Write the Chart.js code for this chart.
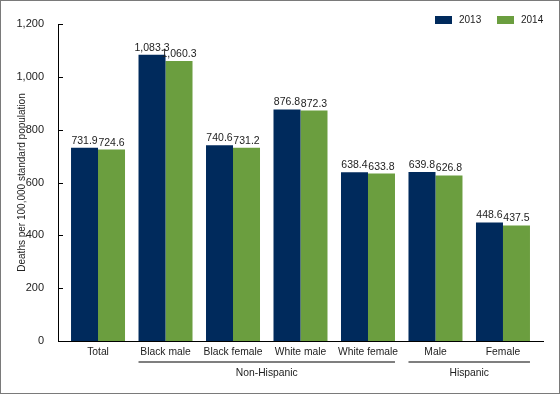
<!DOCTYPE html>
<html>
<head>
<meta charset="utf-8">
<script src="https://cdn.jsdelivr.net/npm/chart.js@4.4.1/dist/chart.umd.min.js"></script>
<style>
  html, body { margin: 0; padding: 0; background: #fff; }
  #wrap { width: 560px; height: 394px; position: relative; }
</style>
</head>
<body>
<div id="wrap"><canvas id="myChart" width="560" height="394"></canvas></div>
<script>
// categories and values
const categories = ["Total", "Black male", "Black female", "White male", "White female", "Male", "Female"];
const years = ["2013", "2014"];
const values2013 = [731.9, 1083.3, 740.6, 876.8, 638.4, 639.8, 448.6];
const values2014 = [724.6, 1060.3, 731.2, 872.3, 633.8, 626.8, 437.5];
const groups = [
  { label: "Non-Hispanic", from: 1, to: 4 },
  { label: "Hispanic", from: 5, to: 6 }
];
const yTicks = [0, 200, 400, 600, 800, 1000, 1200];

const colors = ["#002a5c", "#6b9e3f"];
const font = "'Liberation Sans', Arial, sans-serif";
const textColor = "#222";

const fmt = (v) => v.toLocaleString("en-US", { minimumFractionDigits: 1, maximumFractionDigits: 1 });
const toPoints = (vals) => vals.map((v, i) => ({ x: i, y: v }));

// value labels, inside y ticks, group labels, legend, frame
const extras = {
  id: "extras",
  afterDatasetsDraw(chart) {
    const ctx = chart.ctx;
    const area = chart.chartArea;
    const y = chart.scales.y;
    ctx.save();
    ctx.font = "10.5px " + font;
    ctx.fillStyle = textColor;
    ctx.textAlign = "center";
    ctx.textBaseline = "alphabetic";
    chart.data.datasets.forEach((ds, di) => {
      chart.getDatasetMeta(di).data.forEach((bar, i) => {
        ctx.fillText(fmt(ds.data[i].y), bar.x, bar.y - 4);
      });
    });

    // small tick marks pointing into the plot
    ctx.strokeStyle = "#000";
    ctx.lineWidth = 1;
    yTicks.forEach((t) => {
      const py = Math.round(y.getPixelForValue(t)) + 0.5;
      ctx.beginPath();
      ctx.moveTo(area.left, py);
      ctx.lineTo(area.left + 5, py);
      ctx.stroke();
    });

    // group brackets under the category labels
    const bars0 = chart.getDatasetMeta(0).data;
    const bars1 = chart.getDatasetMeta(1).data;
    ctx.strokeStyle = "#555";
    ctx.lineWidth = 1.5;
    ctx.font = "10.3px " + font;
    groups.forEach((g) => {
      const x1 = bars0[g.from].x - bars0[g.from].width / 2;
      const x2 = bars1[g.to].x + bars1[g.to].width / 2;
      ctx.beginPath();
      ctx.moveTo(x1, area.bottom + 21);
      ctx.lineTo(x2, area.bottom + 21);
      ctx.stroke();
      ctx.fillText(g.label, (x1 + x2) / 2, area.bottom + 35);
    });

    // legend
    ctx.font = "10px " + font;
    ctx.textAlign = "left";
    ctx.textBaseline = "middle";
    let lx = 435;
    chart.data.datasets.forEach((ds) => {
      ctx.fillStyle = ds.backgroundColor;
      ctx.fillRect(lx, 16, 17, 8);
      ctx.fillStyle = textColor;
      ctx.fillText(ds.label, lx + 24, 20.5);
      lx += 62;
    });

    // frame
    ctx.strokeStyle = "#7a7a7a";
    ctx.lineWidth = 1;
    ctx.strokeRect(0.5, 0.5, chart.width - 1, chart.height - 1);
    ctx.restore();
  }
};

const ctx = document.getElementById("myChart").getContext("2d");
const chart = new Chart(ctx, {
  type: "bar",
  data: {
    datasets: [
      { label: years[0], backgroundColor: colors[0], data: toPoints(values2013) },
      { label: years[1], backgroundColor: colors[1], data: toPoints(values2014) }
    ]
  },
  plugins: [extras],
  options: {
    responsive: false,
    animation: false,
    events: [],
    datasets: {
      bar: { categoryPercentage: 0.8, barPercentage: 1.0 }
    },
    layout: { padding: { left: 0, right: 17, top: 24, bottom: 0 } },
    plugins: {
      legend: { display: false },
      tooltip: { enabled: false }
    },
    scales: {
      x: {
        type: "linear",
        offset: false,
        min: -0.593,
        max: 6.593,
        grid: { display: false, drawTicks: false },
        border: { display: true, color: "#000", width: 1 },
        afterBuildTicks: (s) => { s.ticks = categories.map((c, i) => ({ value: i })); },
        afterFit: (s) => { s.height = 53; },
        ticks: {
          autoSkip: false,
          maxRotation: 0,
          padding: 5,
          color: textColor,
          font: { family: font, size: 10.3 },
          callback: (v) => categories[v]
        }
      },
      y: {
        min: 0,
        max: 1200,
        afterBuildTicks: (s) => { s.ticks = yTicks.map((v) => ({ value: v })); },
        afterFit: (s) => { s.width = 58; },
        grid: { display: false },
        border: { display: true, color: "#000", width: 1 },
        ticks: {
          padding: 6,
          color: textColor,
          font: { family: font, size: 11 },
          callback: (v) => v.toLocaleString("en-US")
        },
        title: {
          display: true,
          text: "Deaths per 100,000 standard population",
          color: textColor,
          font: { family: font, size: 10 },
          padding: { top: 16, bottom: 0 }
        }
      }
    }
  }
});
</script>
</body>
</html>
